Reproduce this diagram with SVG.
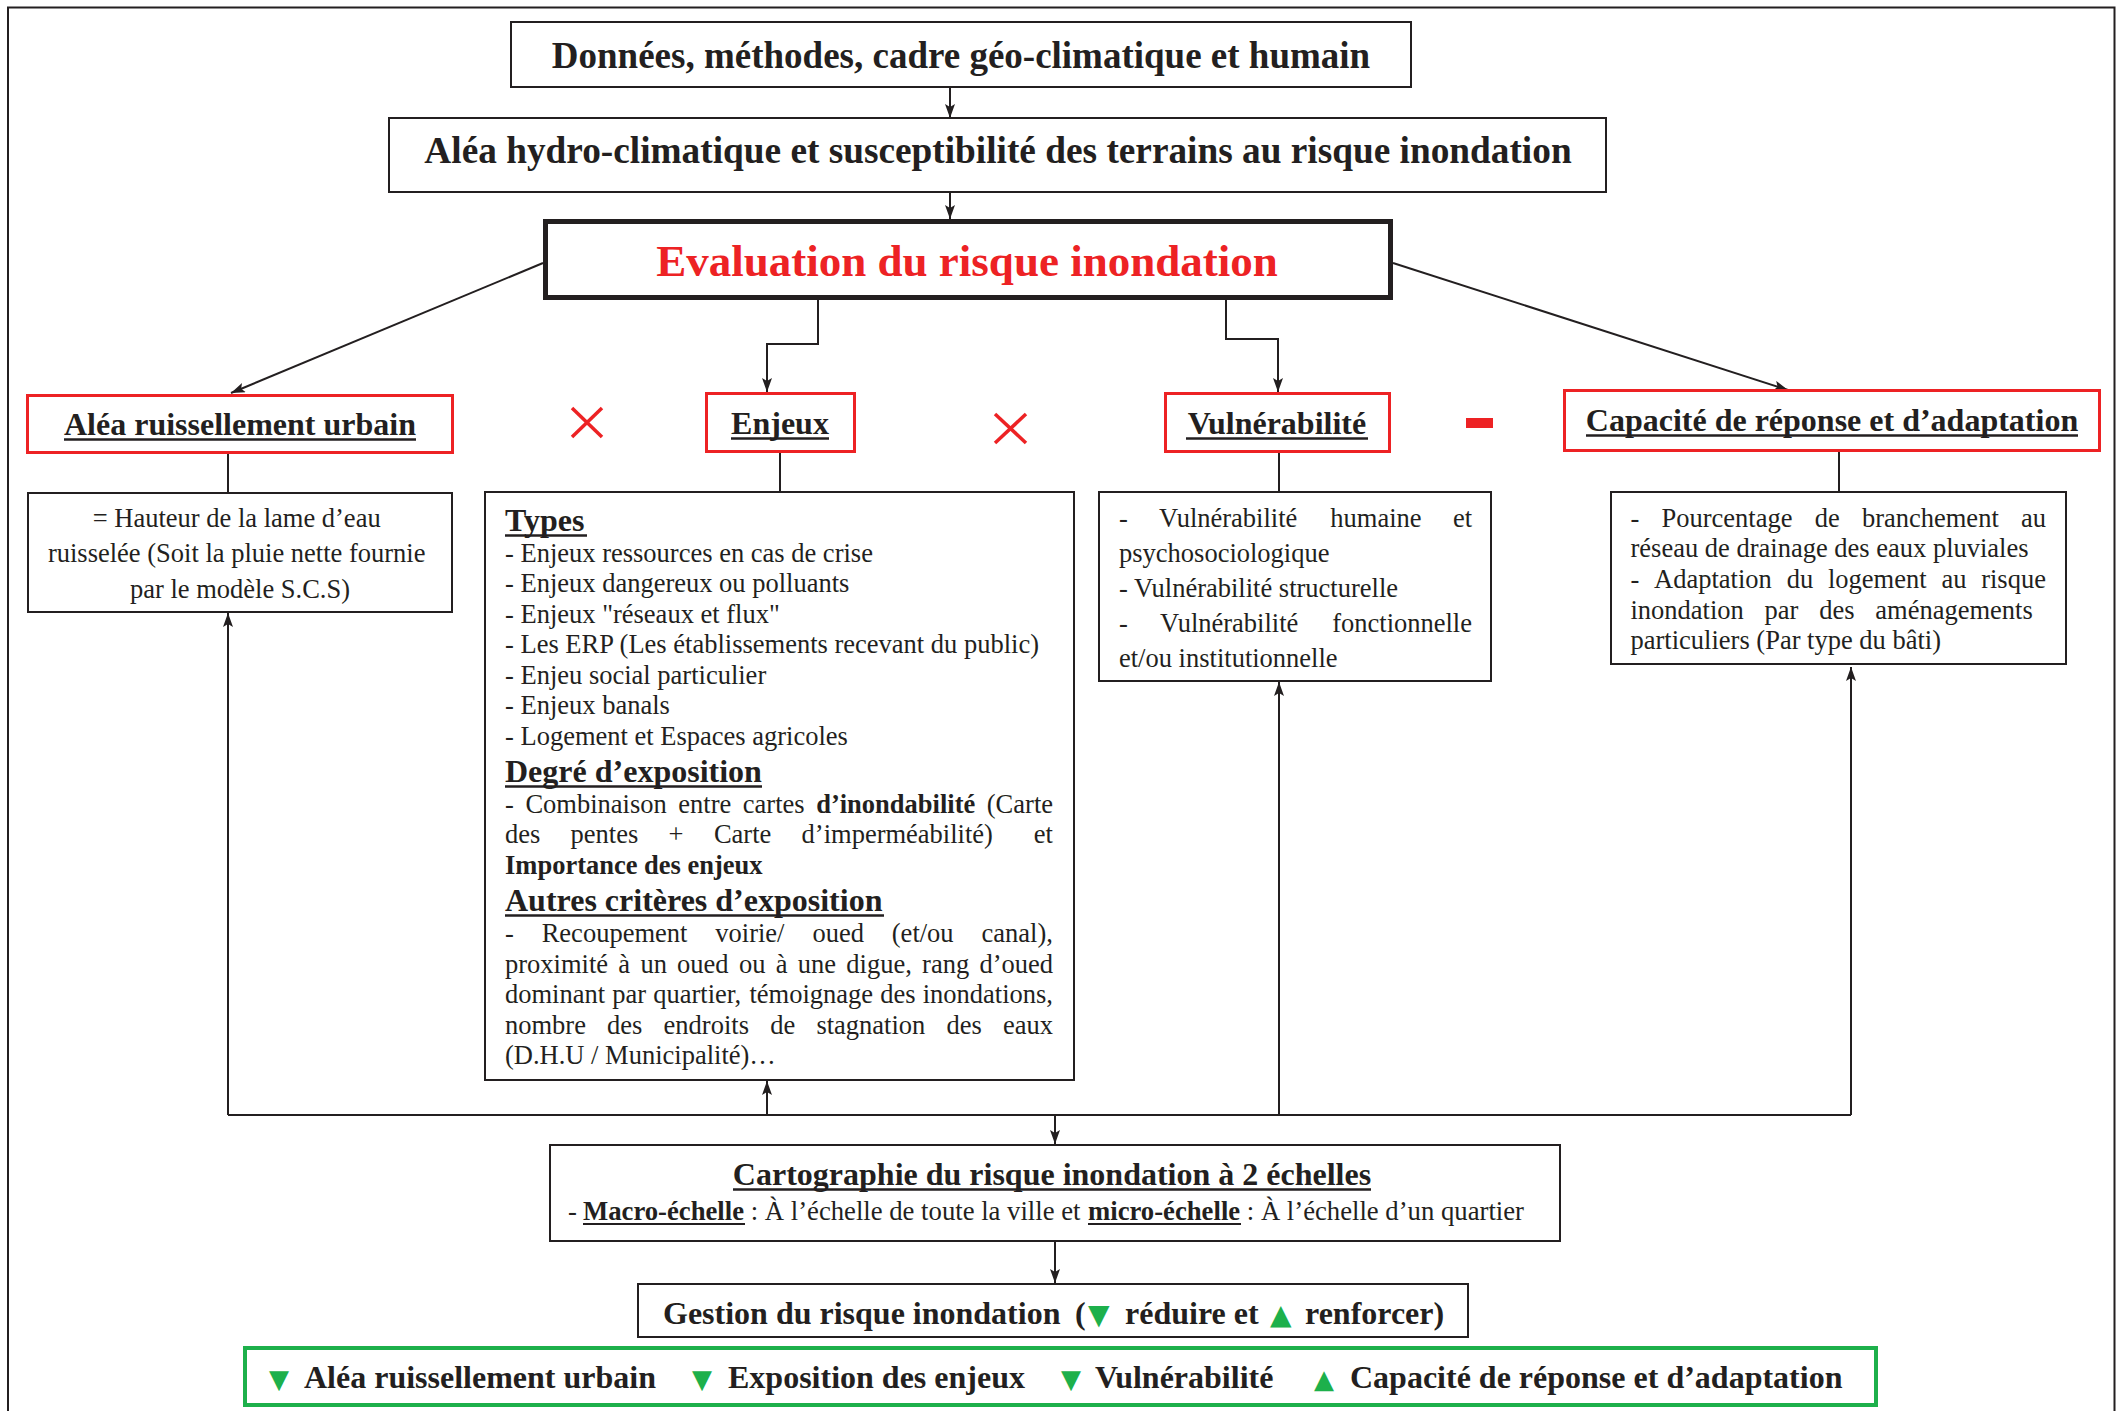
<svg xmlns="http://www.w3.org/2000/svg" width="2125" height="1411" viewBox="0 0 2125 1411">
<style>
.t{font-family:"Liberation Serif","Times New Roman",serif;fill:#231f20}
.b{font-weight:bold}
.s{font-size:26.5px}
.h{font-size:32px;font-weight:bold}
.big{font-size:37px;font-weight:bold}
.box{fill:#fff;stroke:#231f20;stroke-width:2}
.rbox{fill:#fff;stroke:#ed2224;stroke-width:3}
.ln{stroke:#231f20;stroke-width:2;fill:none}
.ul{stroke:#231f20;stroke-width:2.6}
.ul2{stroke:#231f20;stroke-width:2.2}
.tri{font-family:"DejaVu Sans",sans-serif;fill:#1db04b}
.x{stroke:#ed2224;stroke-width:3.5;stroke-linecap:butt}
</style>
<defs>
<marker id="ah" markerWidth="14" markerHeight="10" refX="14" refY="5" orient="auto" markerUnits="userSpaceOnUse">
<path d="M0,0 L14,5 L0,10 L3,5 z" fill="#231f20"/>
</marker>
</defs>
<rect width="2125" height="1411" fill="#fff"/>
<path d="M8,1411 V7.5 H2114.5 V1411" fill="none" stroke="#231f20" stroke-width="2"/>

<g id="connectors">
<line class="ln" x1="950" y1="87" x2="950" y2="118" marker-end="url(#ah)"/>
<line class="ln" x1="950" y1="192" x2="950" y2="219" marker-end="url(#ah)"/>
<line class="ln" x1="543" y1="263" x2="231" y2="393" marker-end="url(#ah)"/>
<line class="ln" x1="1393" y1="263" x2="1788" y2="390" marker-end="url(#ah)"/>
<path class="ln" d="M818,300 V344 H767 V392" marker-end="url(#ah)"/>
<path class="ln" d="M1226,300 V339 H1278 V392" marker-end="url(#ah)"/>
<line class="ln" x1="228" y1="454" x2="228" y2="492"/>
<line class="ln" x1="780" y1="453" x2="780" y2="491"/>
<line class="ln" x1="1279" y1="453" x2="1279" y2="491"/>
<line class="ln" x1="1839" y1="452" x2="1839" y2="491"/>
<path class="ln" d="M228,1115 H1851" stroke-width="2.5"/>
<line class="ln" x1="228" y1="1115" x2="228" y2="613" marker-end="url(#ah)"/>
<line class="ln" x1="767" y1="1115" x2="767" y2="1081" marker-end="url(#ah)"/>
<line class="ln" x1="1279" y1="1115" x2="1279" y2="682" marker-end="url(#ah)"/>
<line class="ln" x1="1851" y1="1115" x2="1851" y2="667" marker-end="url(#ah)"/>
<line class="ln" x1="1055" y1="1115" x2="1055" y2="1144" marker-end="url(#ah)"/>
<line class="ln" x1="1055" y1="1242" x2="1055" y2="1283" marker-end="url(#ah)"/>
</g>

<g id="n-donnees">
<rect class="box" x="511" y="22" width="900" height="65"/>
<text class="t big" x="961" y="68" text-anchor="middle">Données, méthodes, cadre géo-climatique et humain</text>
</g>

<g id="n-alea-hydro">
<rect class="box" x="389" y="118" width="1217" height="74"/>
<text class="t big" x="998" y="163" text-anchor="middle" style="font-size:37.3px">Aléa hydro-climatique et susceptibilité des terrains au risque inondation</text>
</g>

<g id="n-evaluation">
<rect x="545.5" y="221.5" width="845" height="76" fill="#fff" stroke="#231f20" stroke-width="5"/>
<text class="t b" x="967" y="276" text-anchor="middle" font-size="45" style="fill:#ed2224">Evaluation du risque inondation</text>
</g>

<g id="n-alea-ruissellement">
<rect class="rbox" x="27.5" y="395.5" width="425" height="57"/>
<text class="t h" x="240" y="435" text-anchor="middle">Aléa ruissellement urbain</text>
<line class="ul" x1="64" y1="439.5" x2="416" y2="439.5"/>
</g>

<g id="n-hauteur">
<rect class="box" x="28" y="493" width="424" height="119"/>
<text class="t s" text-anchor="middle">
<tspan x="240" y="527">= Hauteur de la lame d’eau</tspan>
<tspan x="240" y="562">ruisselée (Soit la pluie nette fournie</tspan>
<tspan x="240" y="598">par le modèle S.C.S)</tspan>
</text>
</g>

<g id="n-enjeux">
<rect class="rbox" x="706.5" y="393.5" width="148" height="58"/>
<text class="t h" x="780" y="434" text-anchor="middle">Enjeux</text>
<line class="ul" x1="731" y1="438.5" x2="829" y2="438.5"/>
</g>

<g id="n-enjeux-details">
<rect class="box" x="485" y="492" width="589" height="588"/>
<text class="t h" x="505" y="531">Types</text>
<line class="ul" x1="505" y1="535.5" x2="587" y2="535.5"/>
<text class="t s">
<tspan x="505" y="562">- Enjeux ressources en cas de crise</tspan>
<tspan x="505" y="592">- Enjeux dangereux ou polluants</tspan>
<tspan x="505" y="623">- Enjeux "réseaux et flux"</tspan>
<tspan x="505" y="653">- Les ERP (Les établissements recevant du public)</tspan>
<tspan x="505" y="684">- Enjeu social particulier</tspan>
<tspan x="505" y="714">- Enjeux banals</tspan>
<tspan x="505" y="745">- Logement et Espaces agricoles</tspan>
</text>
<text class="t h" x="505" y="782">Degré d’exposition</text>
<line class="ul" x1="505" y1="786.5" x2="762" y2="786.5"/>
<text class="t s" y="813"><tspan x="505">-</tspan><tspan x="525.4">Combinaison</tspan><tspan x="678.3">entre</tspan><tspan x="742.8">cartes</tspan><tspan x="816.2" font-weight="bold">d’inondabilité</tspan><tspan x="986.8">(Carte</tspan></text>
<text class="t s" y="843"><tspan x="505">des</tspan><tspan x="570.6">pentes</tspan><tspan x="668.6">+</tspan><tspan x="713.9">Carte</tspan><tspan x="801.6">d’imperméabilité)</tspan><tspan x="1033.8">et</tspan></text>
<text class="t s b" x="505" y="874">Importance des enjeux</text>
<text class="t h" x="505" y="911">Autres critères d’exposition</text>
<line class="ul" x1="505" y1="915.5" x2="884" y2="915.5"/>
<text class="t s" y="942"><tspan x="505">-</tspan><tspan x="541.7">Recoupement</tspan><tspan x="715.3">voirie/</tspan><tspan x="812.4">oued</tspan><tspan x="891.8">(et/ou</tspan><tspan x="981.5">canal),</tspan></text>
<text class="t s" y="973"><tspan x="505">proximité</tspan><tspan x="618.3">à</tspan><tspan x="640.4">un</tspan><tspan x="677.1">oued</tspan><tspan x="738.9">ou</tspan><tspan x="775.7">à</tspan><tspan x="797.7">une</tspan><tspan x="846.3">digue,</tspan><tspan x="922.1">rang</tspan><tspan x="979.4">d’oued</tspan></text>
<text class="t s" y="1003"><tspan x="505">dominant</tspan><tspan x="612.3">par</tspan><tspan x="653.2">quartier,</tspan><tspan x="749.4">témoignage</tspan><tspan x="880.2">des</tspan><tspan x="922.7">inondations,</tspan></text>
<text class="t s" y="1034"><tspan x="505">nombre</tspan><tspan x="607.1">des</tspan><tspan x="663.6">endroits</tspan><tspan x="770.2">de</tspan><tspan x="816.4">stagnation</tspan><tspan x="946.5">des</tspan><tspan x="1003">eaux</tspan></text>
<text class="t s" x="505" y="1064">(D.H.U / Municipalité)…</text>
</g>

<g id="n-vulnerabilite">
<rect class="rbox" x="1165.5" y="393.5" width="224" height="58"/>
<text class="t h" x="1277" y="434" text-anchor="middle">Vulnérabilité</text>
<line class="ul" x1="1186" y1="438.5" x2="1368" y2="438.5"/>
</g>

<g id="n-vulnerabilite-details">
<rect class="box" x="1099" y="492" width="392" height="189"/>
<text class="t s" y="527"><tspan x="1119">-</tspan><tspan x="1159.1">Vulnérabilité</tspan><tspan x="1330.3">humaine</tspan><tspan x="1452.9">et</tspan></text>
<text class="t s" x="1119" y="562">psychosociologique</text>
<text class="t s" x="1119" y="597">- Vulnérabilité structurelle</text>
<text class="t s" y="632"><tspan x="1119">-</tspan><tspan x="1160.1">Vulnérabilité</tspan><tspan x="1332.2">fonctionnelle</tspan></text>
<text class="t s" x="1119" y="667">et/ou institutionnelle</text>
</g>

<g id="n-capacite">
<rect class="rbox" x="1564.5" y="390.5" width="535" height="60"/>
<text class="t h" x="1832" y="431" text-anchor="middle">Capacité de réponse et d’adaptation</text>
<line class="ul" x1="1586" y1="435.5" x2="2078" y2="435.5"/>
</g>

<g id="n-capacite-details">
<rect class="box" x="1611" y="492" width="455" height="172"/>
<text class="t s" y="527"><tspan x="1630.5">-</tspan><tspan x="1661.5">Pourcentage</tspan><tspan x="1814.7">de</tspan><tspan x="1861.9">branchement</tspan><tspan x="2021">au</tspan></text>
<text class="t s" x="1630.5" y="557">réseau de drainage des eaux pluviales</text>
<text class="t s" y="588"><tspan x="1630.5">-</tspan><tspan x="1654.1">Adaptation</tspan><tspan x="1786.7">du</tspan><tspan x="1828">logement</tspan><tspan x="1941.4">au</tspan><tspan x="1981.2">risque</tspan></text>
<text class="t s" y="619"><tspan x="1630.5">inondation</tspan><tspan x="1764.6">par</tspan><tspan x="1819.2">des</tspan><tspan x="1875.3">aménagements</tspan></text>
<text class="t s" x="1630.5" y="649">particuliers (Par type du bâti)</text>
</g>

<g id="operators">
<line class="x" x1="572" y1="408" x2="602" y2="437"/>
<line class="x" x1="602" y1="408" x2="572" y2="437"/>
<line class="x" x1="995" y1="414" x2="1026" y2="443"/>
<line class="x" x1="1026" y1="414" x2="995" y2="443"/>
<rect x="1466" y="418" width="27" height="10" fill="#ed2224"/>
</g>

<g id="n-cartographie">
<rect class="box" x="550" y="1145" width="1010" height="96"/>
<text class="t h" x="1052" y="1185" text-anchor="middle">Cartographie du risque inondation à 2 échelles</text>
<line class="ul" x1="733" y1="1189.5" x2="1371" y2="1189.5"/>
<text class="t" y="1220" style="font-size:26.7px"><tspan x="568">-</tspan><tspan x="583" font-weight="bold">Macro-échelle</tspan> : À l’échelle de toute la ville et <tspan x="1088" font-weight="bold">micro-échelle</tspan> : À l’échelle d’un quartier</text>
<line class="ul2" x1="583" y1="1224" x2="745" y2="1224"/>
<line class="ul2" x1="1088" y1="1224" x2="1241" y2="1224"/>
</g>

<g id="n-gestion">
<rect class="box" x="638" y="1284" width="830" height="53"/>
<text class="t h" y="1324"><tspan x="663">Gestion du risque inondation</tspan><tspan x="1075">(</tspan><tspan x="1125">réduire et</tspan><tspan x="1305">renforcer)</tspan></text>
<text class="tri" x="1088" y="1324" font-size="28">▼</text>
<text class="tri" x="1270" y="1324" font-size="28">▲</text>
</g>

<g id="n-actions">
<rect x="245" y="1348" width="1631" height="57" fill="#fff" stroke="#1db04b" stroke-width="4"/>
<text class="tri" x="269" y="1388" font-size="26">▼</text>
<text class="t h" x="304" y="1388">Aléa ruissellement urbain</text>
<text class="tri" x="692" y="1388" font-size="26">▼</text>
<text class="t h" x="728" y="1388">Exposition des enjeux</text>
<text class="tri" x="1061" y="1388" font-size="26">▼</text>
<text class="t h" x="1095" y="1388">Vulnérabilité</text>
<text class="tri" x="1314" y="1388" font-size="26">▲</text>
<text class="t h" x="1350" y="1388">Capacité de réponse et d’adaptation</text>
</g>
</svg>
